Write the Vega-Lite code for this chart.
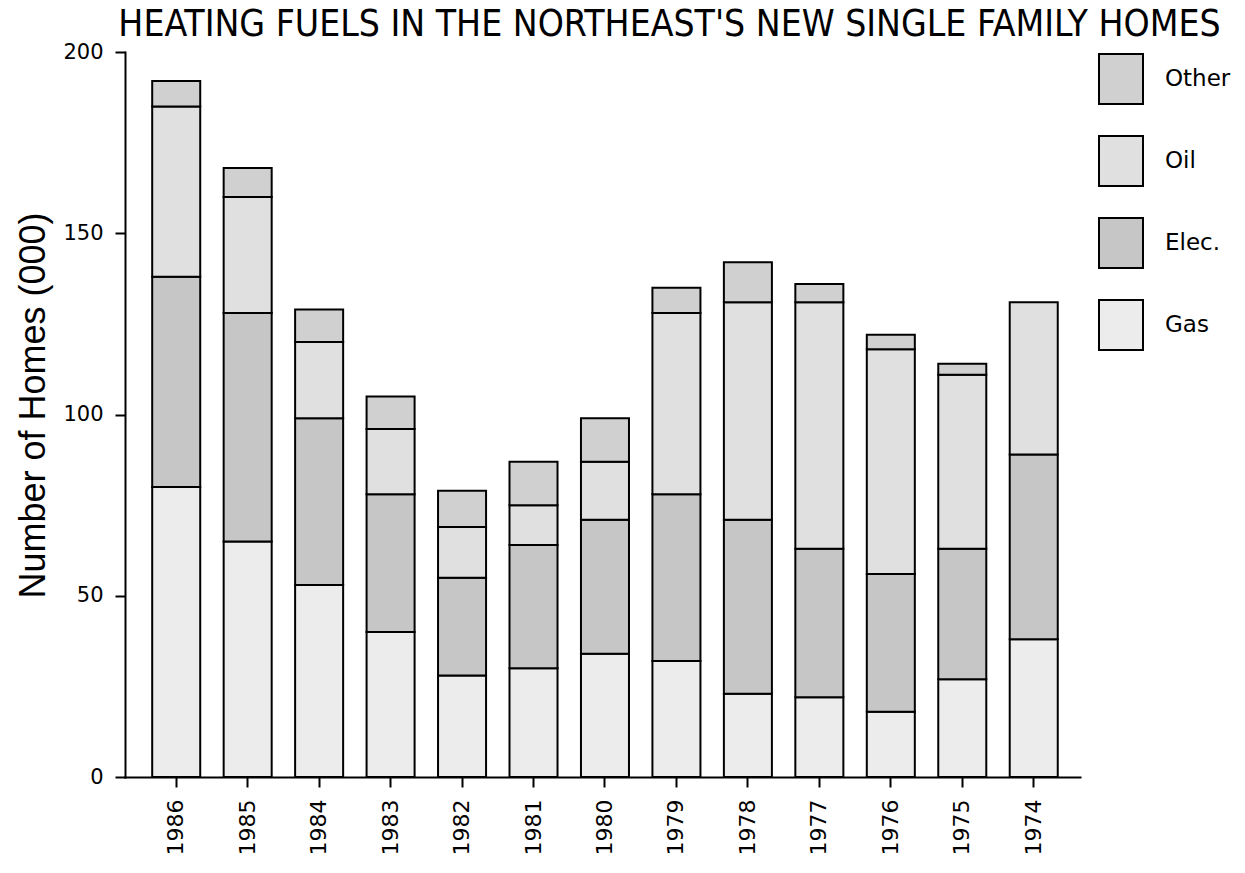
{
  "$schema": "https://vega.github.io/schema/vega-lite/v6.json",
  "autosize": "none",
  "width": 955,
  "height": 725,
  "padding": {"left": 125, "top": 52, "right": 165, "bottom": 96},
  "background": "white",
  "title": {
    "text": "HEATING FUELS IN THE NORTHEAST'S NEW SINGLE FAMILY HOMES",
    "font": "DejaVu Sans Condensed",
    "fontSize": 37,
    "fontWeight": "normal",
    "color": "black",
    "anchor": "middle",
    "frame": "group",
    "dx": 67,
    "dy": 48,
    "baseline": "alphabetic",
    "offset": 16
  },
  "data": {
    "values": [
      {"year": "1986", "fuel": "Gas", "homes": 80}, {"year": "1986", "fuel": "Elec.", "homes": 58}, {"year": "1986", "fuel": "Oil", "homes": 47}, {"year": "1986", "fuel": "Other", "homes": 7},
      {"year": "1985", "fuel": "Gas", "homes": 65}, {"year": "1985", "fuel": "Elec.", "homes": 63}, {"year": "1985", "fuel": "Oil", "homes": 32}, {"year": "1985", "fuel": "Other", "homes": 8},
      {"year": "1984", "fuel": "Gas", "homes": 53}, {"year": "1984", "fuel": "Elec.", "homes": 46}, {"year": "1984", "fuel": "Oil", "homes": 21}, {"year": "1984", "fuel": "Other", "homes": 9},
      {"year": "1983", "fuel": "Gas", "homes": 40}, {"year": "1983", "fuel": "Elec.", "homes": 38}, {"year": "1983", "fuel": "Oil", "homes": 18}, {"year": "1983", "fuel": "Other", "homes": 9},
      {"year": "1982", "fuel": "Gas", "homes": 28}, {"year": "1982", "fuel": "Elec.", "homes": 27}, {"year": "1982", "fuel": "Oil", "homes": 14}, {"year": "1982", "fuel": "Other", "homes": 10},
      {"year": "1981", "fuel": "Gas", "homes": 30}, {"year": "1981", "fuel": "Elec.", "homes": 34}, {"year": "1981", "fuel": "Oil", "homes": 11}, {"year": "1981", "fuel": "Other", "homes": 12},
      {"year": "1980", "fuel": "Gas", "homes": 34}, {"year": "1980", "fuel": "Elec.", "homes": 37}, {"year": "1980", "fuel": "Oil", "homes": 16}, {"year": "1980", "fuel": "Other", "homes": 12},
      {"year": "1979", "fuel": "Gas", "homes": 32}, {"year": "1979", "fuel": "Elec.", "homes": 46}, {"year": "1979", "fuel": "Oil", "homes": 50}, {"year": "1979", "fuel": "Other", "homes": 7},
      {"year": "1978", "fuel": "Gas", "homes": 23}, {"year": "1978", "fuel": "Elec.", "homes": 48}, {"year": "1978", "fuel": "Oil", "homes": 60}, {"year": "1978", "fuel": "Other", "homes": 11},
      {"year": "1977", "fuel": "Gas", "homes": 22}, {"year": "1977", "fuel": "Elec.", "homes": 41}, {"year": "1977", "fuel": "Oil", "homes": 68}, {"year": "1977", "fuel": "Other", "homes": 5},
      {"year": "1976", "fuel": "Gas", "homes": 18}, {"year": "1976", "fuel": "Elec.", "homes": 38}, {"year": "1976", "fuel": "Oil", "homes": 62}, {"year": "1976", "fuel": "Other", "homes": 4},
      {"year": "1975", "fuel": "Gas", "homes": 27}, {"year": "1975", "fuel": "Elec.", "homes": 36}, {"year": "1975", "fuel": "Oil", "homes": 48}, {"year": "1975", "fuel": "Other", "homes": 3},
      {"year": "1974", "fuel": "Gas", "homes": 38}, {"year": "1974", "fuel": "Elec.", "homes": 51}, {"year": "1974", "fuel": "Oil", "homes": 42}
    ]
  },
  "transform": [
    {"calculate": "indexof(['Gas', 'Elec.', 'Oil', 'Other'], datum.fuel)", "as": "stackOrder"}
  ],
  "mark": {"type": "bar", "stroke": "black", "strokeWidth": 2},
  "encoding": {
    "x": {
      "field": "year",
      "type": "nominal",
      "sort": "descending",
      "scale": {"paddingInner": 0.328, "paddingOuter": 0.346, "align": 0.55},
      "axis": {
        "title": null,
        "labelAngle": -90,
        "labelAlign": "right",
        "labelBaseline": "middle",
        "labelFont": "DejaVu Sans",
        "labelFontSize": 22,
        "labelColor": "black",
        "labelPadding": 12,
        "tickSize": 10,
        "tickColor": "black",
        "tickWidth": 2,
        "domainColor": "black",
        "domainWidth": 2
      }
    },
    "y": {
      "field": "homes",
      "type": "quantitative",
      "stack": "zero",
      "scale": {"domain": [0, 200], "nice": false},
      "axis": {
        "title": "Number of Homes (000)",
        "titleFont": "Liberation Sans",
        "titleFontSize": 36,
        "titleFontWeight": "normal",
        "titleColor": "black",
        "titleX": -92,
        "titleY": 353,
        "titleAngle": -90,
        "titleAlign": "center",
        "titleBaseline": "middle",
        "values": [0, 50, 100, 150, 200],
        "grid": false,
        "labelFont": "DejaVu Sans",
        "labelFontSize": 21,
        "labelColor": "black",
        "labelPadding": 12,
        "tickSize": 10,
        "tickColor": "black",
        "tickWidth": 2,
        "domainColor": "black",
        "domainWidth": 2
      }
    },
    "order": {"field": "stackOrder", "type": "quantitative", "sort": "ascending"},
    "color": {
      "field": "fuel",
      "type": "nominal",
      "scale": {
        "domain": ["Gas", "Elec.", "Oil", "Other"],
        "range": ["#ececec", "#c6c6c6", "#e0e0e0", "#d0d0d0"]
      },
      "legend": {
        "title": null,
        "orient": "none",
        "legendX": 970,
        "legendY": 1,
        "padding": 0,
        "values": ["Other", "Oil", "Elec.", "Gas"],
        "symbolType": "M-0.88,-1H0.88V1H-0.88Z",
        "symbolSize": 2500,
        "symbolStrokeColor": "black",
        "symbolStrokeWidth": 2,
        "symbolOpacity": 1,
        "rowPadding": 24,
        "labelOffset": 18,
        "labelFont": "DejaVu Sans",
        "labelFontSize": 23,
        "labelColor": "black",
        "labelLimit": 200
      }
    }
  },
  "config": {
    "view": {"stroke": null},
    "axis": {"domainCap": "square"}
  }
}
